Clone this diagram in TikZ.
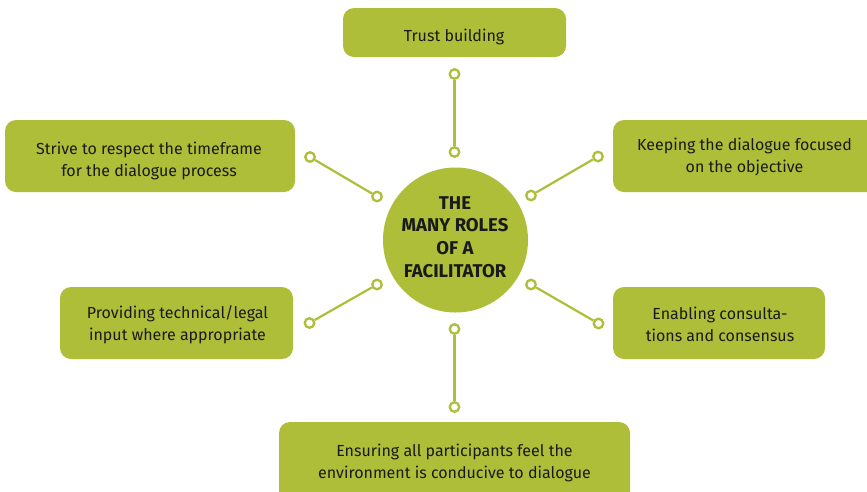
\documentclass[tikz,border=0pt]{standalone}
\usepackage{fontspec}
\setmainfont{Fira Sans}
\definecolor{lime}{HTML}{AFBE38}
\definecolor{ink}{HTML}{1A1A1A}
\begin{document}
\begin{tikzpicture}[x=1pt,y=-1pt,
  role/.style={fill=lime,rounded corners=11pt,inner sep=0pt},
  roletext/.style={text=ink,align=center,inner sep=0pt,font=\fontsize{16}{22}\selectfont},
  hub/.style={circle,fill=lime,minimum size=145pt,inner sep=0pt},
  hubtext/.style={text=ink,align=center,inner sep=0pt,font=\fontsize{18.5}{22.7}\selectfont\bfseries},
  dot/.style={circle,draw=lime,fill=white,line width=2.3pt,minimum size=9.5pt,inner sep=0pt},
  link/.style={draw=lime,line width=2.2pt}]
\useasboundingbox (0,0) rectangle (867,491);
% boxes
\node[role,minimum width=223pt,minimum height=49pt] (trust) at (454.5,32.5) {};
\node[roletext] (trusttext) at (454,36.5) {Trust building};
\node[role,minimum width=290pt,minimum height=72pt] (strive) at (150,156) {};
\node[roletext] (strivetext) at (149,161) {Strive to respect the timeframe\\for the dialogue process};
\node[role,minimum width=267pt,minimum height=72pt] (keep) at (746.5,156) {};
\node[roletext] (keeptext) at (744.5,157) {Keeping the dialogue focused\\on the objective};
\node[role,minimum width=233pt,minimum height=72pt] (prov) at (176.5,323) {};
\node[roletext] (provtext) at (177.5,324.5) {Providing technical/legal\\input where appropriate};
\node[role,minimum width=212pt,minimum height=72pt] (enab) at (719,323) {};
\node[roletext] (enabtext) at (720,324.5) {Enabling consulta-\\tions and consensus};
\node[role,minimum width=351pt,minimum height=84pt] (ens) at (454.5,464) {};
\node[roletext] (enstext) at (454.5,463) {Ensuring all participants feel the\\environment is conducive to dialogue};
% hub
\node[hub] (hubc) at (455.5,240) {};
\node[hubtext] (hubtext) at (455,237) {THE\\MANY ROLES\\OF A\\FACILITATOR};
% connector end points
\node[dot] (t1) at (454.5,74) {};
\node[dot] (t2) at (454.5,152) {};
\node[dot] (ul1) at (310,157) {};
\node[dot] (ul2) at (377,196.5) {};
\node[dot] (ur1) at (598,156.5) {};
\node[dot] (ur2) at (531,195.5) {};
\node[dot] (ll1) at (377,284.5) {};
\node[dot] (ll2) at (309.5,323) {};
\node[dot] (lr1) at (531,284.5) {};
\node[dot] (lr2) at (598.5,323.5) {};
\node[dot] (b1) at (454.5,329) {};
\node[dot] (b2) at (454.5,407) {};
\draw[link] (t1) -- (t2);
\draw[link] (ul1) -- (ul2);
\draw[link] (ur1) -- (ur2);
\draw[link] (ll1) -- (ll2);
\draw[link] (lr1) -- (lr2);
\draw[link] (b1) -- (b2);
\end{tikzpicture}
\end{document}
